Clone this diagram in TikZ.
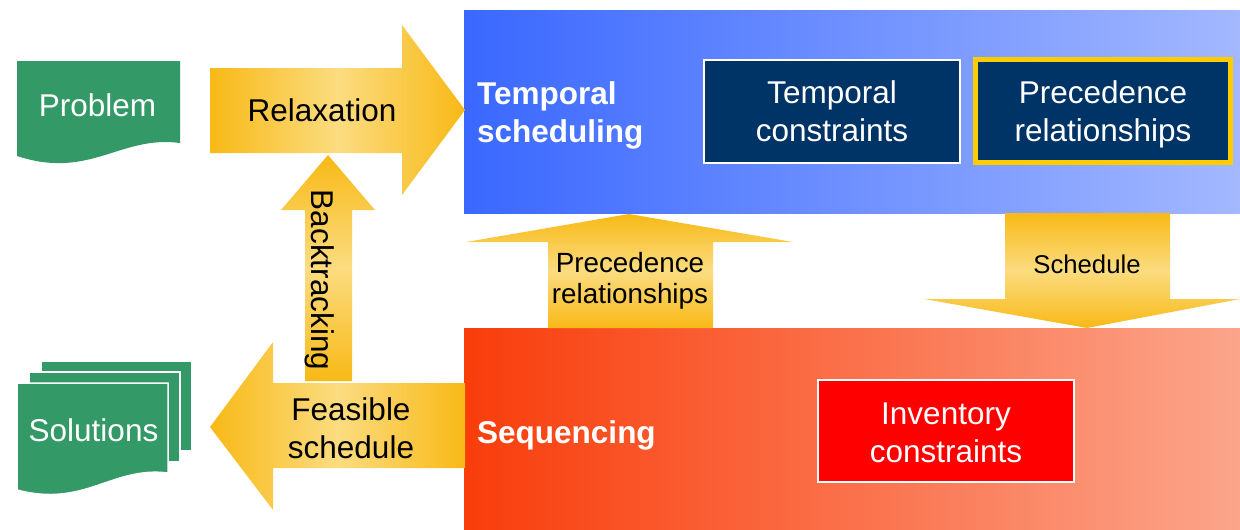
\documentclass[tikz,border=0pt]{standalone}
\usepackage{fontspec}
\setmainfont{Liberation Sans}

% palette
\definecolor{docgreen}{HTML}{339966}
\definecolor{arrowdark}{HTML}{F8B916}
\definecolor{arrowlight}{HTML}{FBDC80}
\definecolor{blueL}{HTML}{3A68FF}
\definecolor{blueR}{HTML}{A3B8FF}
\definecolor{redL}{HTML}{F93D0B}
\definecolor{redR}{HTML}{FBA58B}
\definecolor{navy}{HTML}{003366}
\definecolor{gold}{HTML}{FFCC00}
\definecolor{alarm}{HTML}{FF0000}

\tikzset{
  lbl/.style={font=\fontsize{31.5}{38}\selectfont, align=center, inner sep=0pt},
  whitelbl/.style={lbl, text=white},
  panellbl/.style={font=\fontsize{31.5}{38}\selectfont\bfseries, text=white, align=left, inner sep=0pt},
  hshade/.style={left color=arrowdark, right color=arrowdark, middle color=arrowlight},
  vshade/.style={top color=arrowdark, bottom color=arrowdark, middle color=arrowlight},
  docpage/.style={fill=docgreen, draw=white, line width=1.5pt},
  infobox/.style={whitelbl, rectangle, minimum width=256pt, minimum height=103pt},
}

\begin{document}
\begin{tikzpicture}[x=1pt, y=-1pt]
\useasboundingbox (0,0) rectangle (1240,530);

% ---- panels ----
\shade[left color=blueL, right color=blueR] (464,10) rectangle (1240,213);
\shade[left color=redL, right color=redR] (464,328) rectangle (1240,530);
\node[panellbl, anchor=west] (temporal) at (477,115) {Temporal\\scheduling};
\node[panellbl, anchor=west] (sequencing) at (477,435) {Sequencing};

\node[infobox, fill=navy, draw=white, line width=2pt, text depth=0pt] (tempcons) at (832,111.5) {Temporal\\constraints};
\node[infobox, minimum width=255pt, fill=navy, draw=gold, line width=5pt] (precrel) at (1103,111) {};
\node[whitelbl] (precreltext) at (1103,114) {Precedence\\relationships};
\node[infobox, minimum height=102pt, fill=alarm, draw=white, line width=2pt] (invcons) at (946,431) {};
\node[whitelbl] (invconstext) at (946,432.5) {Inventory\\constraints};

% ---- documents ----
\path[fill=docgreen] (17,61) -- (180,61) -- (180,143)
  .. controls (120,135) and (90,180) .. (17,156) -- cycle;
\node[whitelbl] (problem) at (97.5,105) {Problem};

\path[docpage] (41,361) rectangle (192,451);
\path[docpage] (29,372) rectangle (180,462);
\path[docpage] (17,383) -- (168,383) -- (168,473)
  .. controls (112,466) and (85,508) .. (17,490) -- cycle;
\node[whitelbl] (solutions) at (93.5,430) {Solutions};

% ---- block arrows ----
% relaxation (right)
\shade[hshade] (210,68) -- (402,68) -- (402,25) -- (465,110) -- (402,195)
  -- (402,153) -- (210,153) -- cycle;
\node[lbl] (relax) at (322,110.5) {Relaxation};

% backtracking (up)
\shade[vshade] (305,381) -- (305,210) -- (281,210) -- (328,155) -- (375,210)
  -- (352,210) -- (352,381) -- cycle;
\node[lbl, rotate=-90] (backtrack) at (319.5,280) {Backtracking};

% feasible schedule (left)
\shade[hshade] (465,383) -- (273,383) -- (273,342) -- (210,427) -- (273,510)
  -- (273,468) -- (465,468) -- cycle;
\node[lbl] (feasible) at (351,428) {Feasible\\schedule};

% precedence relationships (up)
\shade[vshade] (548,328) -- (548,242) -- (466,242) -- (629,214) -- (793,242)
  -- (713,242) -- (713,328) -- cycle;
\node[lbl, font=\fontsize{27.8}{31}\selectfont] (precup) at (630,280.5) {Precedence\\relationships};

% schedule (down)
\shade[vshade] (1005,213) -- (1170,213) -- (1170,299) -- (1240,299) -- (1087,328)
  -- (924,299) -- (1005,299) -- cycle;
\node[lbl, font=\fontsize{25.7}{30}\selectfont] (sched) at (1087,264) {Schedule};
\end{tikzpicture}
\end{document}
